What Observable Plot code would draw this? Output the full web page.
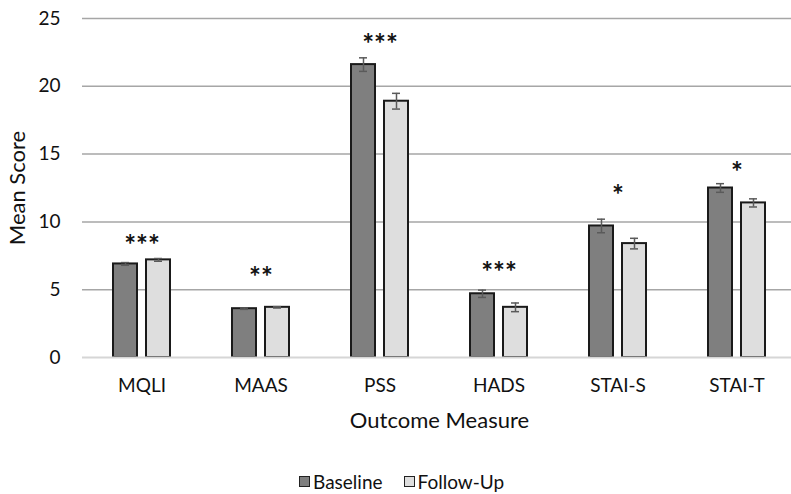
<!DOCTYPE html>
<html><head><meta charset="utf-8">
<script src="https://cdn.jsdelivr.net/npm/d3@7"></script>
<script src="https://cdn.jsdelivr.net/npm/@observablehq/plot@0.6"></script>
<style>
body{margin:0;background:#fff;font-family:Lato,sans-serif;width:791px;height:494px;position:relative;overflow:hidden}
#chart{position:absolute;left:0;top:0}
g[aria-label="y-axis label"], g[aria-label="fx-axis label"]{font-size:22px}
#legend{position:absolute;left:299px;top:470px;display:flex;align-items:center;font-size:19px;color:#111;font-family:Lato,sans-serif}
.sw{width:11px;height:11px;border:1px solid #222;display:inline-block;margin-right:3px;box-sizing:border-box}
</style></head><body>
<div id="chart"></div>
<div id="legend"></div>
<script>
const measures = ["MQLI","MAAS","PSS","HADS","STAI-S","STAI-T"];
const series = ["Baseline","Follow-Up"];
const baseline = [6.9,3.6,21.6,4.7,9.7,12.5];
const followUp = [7.2,3.7,18.9,3.7,8.4,11.4];
const baselineErr = [0.1,0.05,0.5,0.27,0.5,0.32];
const followUpErr = [0.1,0.05,0.58,0.32,0.39,0.3];
const sigLabels = ["***","**","***","***","*","*"];
const sigY = [8.6,6.2,23.4,6.6,12.3,14.0];
const yTicks = [0,5,10,15,20,25];
const colors = ["#7f7f7f","#dedede"];

const rows = [];
measures.forEach((m,i)=>{
  rows.push({measure:m, series:"Baseline", value:baseline[i], err:baselineErr[i]});
  rows.push({measure:m, series:"Follow-Up", value:followUp[i], err:followUpErr[i]});
});
const sig = measures.map((m,i)=>({measure:m, label:sigLabels[i], y:sigY[i]}));

const chart = Plot.plot({
  width:791, height:440,
  marginTop:18, marginBottom:83, marginLeft:80, marginRight:-7,
  style:{fontFamily:"Lato, sans-serif", fontSize:"19px", color:"#111", background:"#fff", overflow:"visible"},
  fx:{domain:measures, padding:0, label:"Outcome Measure", labelAnchor:"center", labelOffset:70, tickSize:0, tickPadding:21},
  x:{domain:series, paddingInner:0.265, paddingOuter:0.894, axis:null},
  y:{domain:[0,25], ticks:yTicks, tickSize:0, tickPadding:22, label:"Mean Score", labelAnchor:"center", labelOffset:73, labelArrow:"none"},
  color:{domain:series, range:colors},
  marks:[
    Plot.ruleY(yTicks.filter(d=>d>0), {stroke:"#a6a6a6", strokeWidth:1.5}),
    Plot.barY(rows, {fx:"measure", x:"series", y:"value", fill:"series", stroke:"#1a1a1a", strokeWidth:2}),
    Plot.ruleY([0], {stroke:"#d6d6d6", strokeWidth:2}),
    Plot.ruleX(rows, {fx:"measure", x:"series", y1:d=>d.value-d.err, y2:d=>d.value+d.err, stroke:"#5a5a5a", strokeWidth:1.5}),
    Plot.tickY(rows, {fx:"measure", x:"series", y:d=>d.value-d.err, stroke:"#5a5a5a", strokeWidth:1.5, insetLeft:8, insetRight:8}),
    Plot.tickY(rows, {fx:"measure", x:"series", y:d=>d.value+d.err, stroke:"#5a5a5a", strokeWidth:1.5, insetLeft:8, insetRight:8}),
    Plot.text(sig, {fx:"measure", y:"y", text:"label", fontSize:28, fontWeight:"bold", fill:"#111", dy:5, letterSpacing:"1px"})
  ]
});
document.getElementById("chart").appendChild(chart);

const legend = document.getElementById("legend");
series.forEach((s,i)=>{
  const item = document.createElement("span");
  item.style.display="inline-flex"; item.style.alignItems="center";
  item.style.marginRight = i===0 ? "21px" : "0";
  const sw = document.createElement("span"); sw.className="sw"; sw.style.background=colors[i];
  item.appendChild(sw);
  item.appendChild(document.createTextNode(s));
  legend.appendChild(item);
});
</script>
</body></html>
